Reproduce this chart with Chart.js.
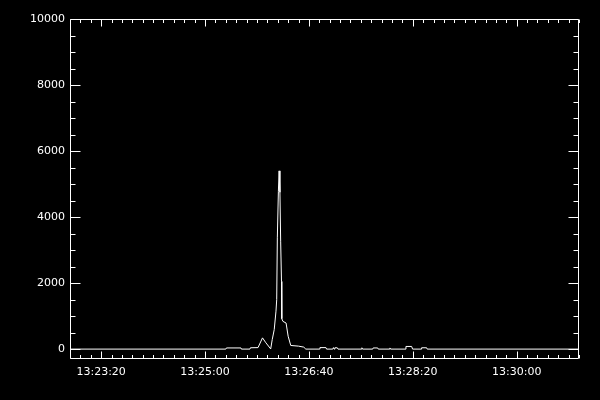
<!DOCTYPE html>
<html><head><meta charset="utf-8">
<script src="https://cdn.jsdelivr.net/npm/chart.js@4/dist/chart.umd.min.js"></script>
<style>html,body{margin:0;padding:0;background:#000;overflow:hidden;} #c{display:block;}</style>
</head><body>
<canvas id="c" width="600" height="400"></canvas>
<script>
// ---- data ----
const times = ["13:22:50","13:25:20","13:25:20.6","13:25:34.6","13:25:35","13:25:43.2","13:25:43.7","13:25:51","13:25:55.3","13:25:58.6",
  "13:26:03.2","13:26:04.7","13:26:06.6","13:26:08.3","13:26:09.0","13:26:09.6","13:26:10.6","13:26:11.3","13:26:12.1","13:26:12.8",
  "13:26:13.6","13:26:13.9","13:26:15","13:26:18","13:26:20","13:26:22.5","13:26:30","13:26:35","13:26:37","13:26:50","13:26:50.6","13:26:56.4",
  "13:26:57","13:27:03","13:27:03.6","13:27:04.2","13:27:05","13:27:07.3","13:27:08","13:27:30.4","13:27:31","13:27:31.6",
  "13:27:41.4","13:27:41.9","13:27:46.2","13:27:46.8","13:27:57.4","13:27:58","13:27:58.6","13:28:12.5","13:28:13.4","13:28:18.9",
  "13:28:19.8","13:28:28","13:28:28.5","13:28:33.3","13:28:33.9","13:31:00"];
const counts = [0,0,35,35,0, 0,40,45,340,190, 5,290,590,1150,1500, 3370,4780,5400,4750,3270,
  2050,920,840,790,390,110,90, 60,0,0,45,45, 0,0,45,0,40, 40,0,0,40,0, 0,35,35,0,0, 35,0,0,80,80, 0,0,40,40,0, 0];
const xTickLabels = ["13:23:20","13:25:00","13:26:40","13:28:20","13:30:00"];
const yTickValues = [0,2000,4000,6000,8000,10000];
const xRange = ["13:22:50","13:31:00"];
const yRange = [-300, 10000];

function toSec(t){const p=t.split(':').map(Number);return p[0]*3600+p[1]*60+p[2];}
function fmt(s){s=Math.round(s);const h=Math.floor(s/3600),m=Math.floor(s%3600/60),c=s%60;
  return String(h).padStart(2,'0')+':'+String(m).padStart(2,'0')+':'+String(c).padStart(2,'0');}

const points = times.map((t,i)=>({x:toSec(t), y:counts[i]}));
const FONT = {family:'"DejaVu Sans"', size:11};

const idlAxes = {
  id:'idlAxes',
  beforeDraw(chart){const c=chart.ctx;c.save();c.fillStyle='#000';c.fillRect(0,0,chart.width,chart.height);c.restore();},
  afterDraw(chart){
    const {ctx, chartArea:a, scales:{x,y}} = chart;
    ctx.save(); ctx.strokeStyle='#fff'; ctx.lineWidth=1;
    const L=Math.round(a.left)+0.5, R=Math.round(a.right)-0.5, T=Math.round(a.top)+0.5, B=Math.round(a.bottom)-0.5;
    ctx.beginPath();
    ctx.rect(L,T,R-L,B-T);
    const x0=toSec(xRange[0]), x1=toSec(xRange[1]);
    for (let s=Math.ceil(x0/10)*10; s<=x1; s+=10){
      const px=Math.round(x.getPixelForValue(s))+0.5;
      const len = s%100===0 ? 7 : 3.5;
      ctx.moveTo(px,B); ctx.lineTo(px,B-len);
      ctx.moveTo(px,T); ctx.lineTo(px,T+len);
    }
    for (let v=0; v<=yRange[1]; v+=500){
      const py=Math.round(y.getPixelForValue(v))+0.5;
      const len = v%2000===0 ? 10 : 5;
      ctx.moveTo(L,py); ctx.lineTo(L+len,py);
      ctx.moveTo(R,py); ctx.lineTo(R-len,py);
    }
    ctx.stroke(); ctx.restore();
  }
};

new Chart(document.getElementById('c'), {
  type:'line',
  data:{datasets:[{data:points, borderColor:'#fff', borderWidth:1, pointRadius:0, tension:0, fill:false}]},
  options:{
    responsive:false, animation:false, devicePixelRatio:1,
    layout:{padding:{top:19,right:21,left:0,bottom:0}},
    plugins:{legend:{display:false}, tooltip:{enabled:false}},
    scales:{
      x:{type:'linear', min:toSec(xRange[0]), max:toSec(xRange[1]),
        grid:{display:false, drawTicks:false, tickLength:0}, border:{display:false},
        afterBuildTicks:s=>{s.ticks=xTickLabels.map(t=>({value:toSec(t)}));},
        afterFit:s=>{s.height=41;},
        ticks:{color:'#fff', font:FONT, padding:7, maxRotation:0, autoSkip:false, callback:v=>fmt(v)}},
      y:{type:'linear', min:yRange[0], max:yRange[1],
        grid:{display:false, drawTicks:false, tickLength:0}, border:{display:false},
        afterBuildTicks:s=>{s.ticks=yTickValues.map(v=>({value:v}));},
        afterFit:s=>{s.width=70;},
        ticks:{color:'#fff', font:FONT, padding:5, autoSkip:false, callback:v=>String(v)}}
    }
  },
  plugins:[idlAxes]
});
</script>
</body></html>
